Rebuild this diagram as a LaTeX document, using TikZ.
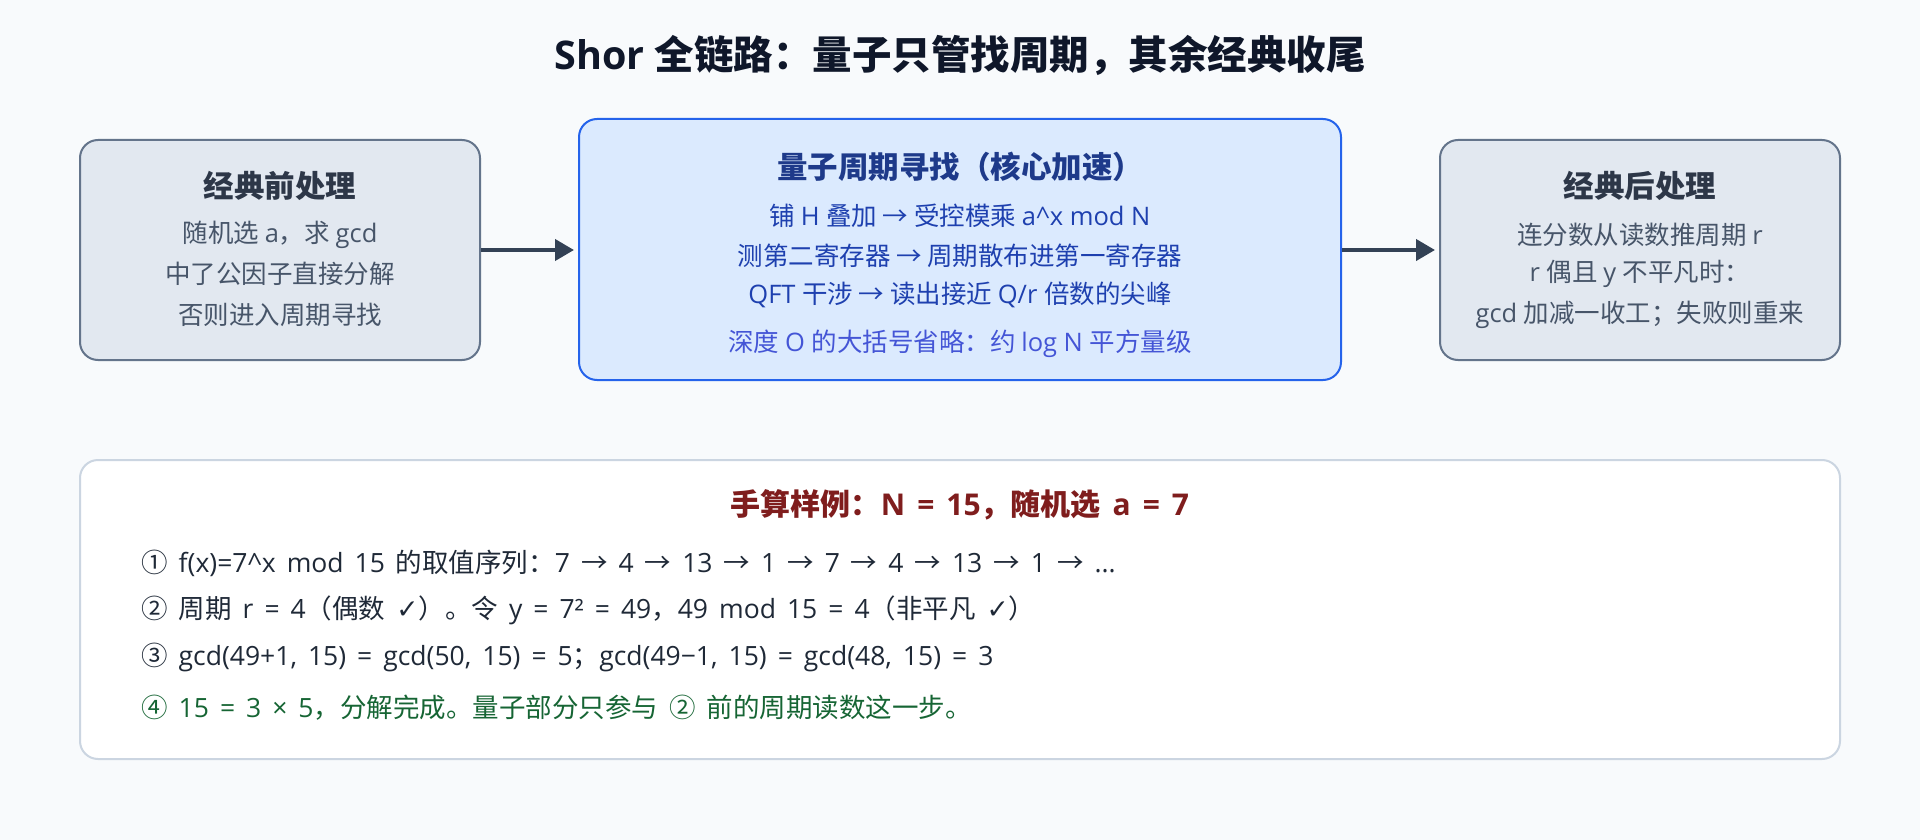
\documentclass[tikz,border=0pt]{standalone}
\usepackage{fontspec}
\setmainfont{Open Sans}
\newfontfamily\latfont{Open Sans}
\newfontfamily\cjkfont{Noto Sans CJK SC}
\newfontfamily\symfont{DejaVu Sans}
\usetikzlibrary{arrows.meta}
% automatic font switching between Latin, CJK and symbols
\XeTeXinterchartokenstate=1
\newXeTeXintercharclass\CJKcls
\newXeTeXintercharclass\SYMcls
\newcount\cc
\def\setcls#1#2#3{\cc=#1\relax\loop\XeTeXcharclass\cc=#3\relax\ifnum\cc<#2\advance\cc by 1\repeat}
\setcls{"2460}{"24FF}{\CJKcls}
\setcls{"2190}{"21FF}{\CJKcls}
\setcls{"3000}{"303F}{\CJKcls}
\setcls{"4E00}{"9FFF}{\CJKcls}
\setcls{"FF00}{"FFEF}{\CJKcls}
\XeTeXcharclass"2713=\SYMcls
\XeTeXinterchartoks 0 \CJKcls={\cjkfont}
\XeTeXinterchartoks 4095 \CJKcls={\cjkfont}
\XeTeXinterchartoks \SYMcls \CJKcls={\cjkfont}
\XeTeXinterchartoks \CJKcls 0={\latfont}
\XeTeXinterchartoks 4095 0={\latfont}
\XeTeXinterchartoks \SYMcls 0={\latfont}
\XeTeXinterchartoks 0 \SYMcls={\symfont}
\XeTeXinterchartoks 4095 \SYMcls={\symfont}
\XeTeXinterchartoks \CJKcls \SYMcls={\symfont}
\newcommand\widesp[1]{\spaceskip #1\relax}
\definecolor{bgc}{HTML}{F8FAFC}
\definecolor{sidefill}{HTML}{E2E8F0}
\definecolor{sideborder}{HTML}{64748B}
\definecolor{sidetitle}{HTML}{2D3748}
\definecolor{sidetext}{HTML}{475569}
\definecolor{midfill}{HTML}{DBEAFE}
\definecolor{midborder}{HTML}{2563EB}
\definecolor{midtitle}{HTML}{1E3A8A}
\definecolor{midtext}{HTML}{1E40AF}
\definecolor{midnote}{HTML}{4455D6}
\definecolor{arrowc}{HTML}{334155}
\definecolor{exborder}{HTML}{CBD5E1}
\definecolor{extitle}{HTML}{7F1D1D}
\definecolor{extext}{HTML}{1F2937}
\definecolor{exgreen}{HTML}{166534}
\definecolor{maintitle}{HTML}{0F172A}
\tikzset{
  sidebox/.style={draw=sideborder, fill=sidefill, line width=2pt, rounded corners=18pt, minimum width=400pt, minimum height=220pt, inner sep=0pt},
  midbox/.style={draw=midborder, fill=midfill, line width=2pt, rounded corners=18pt, minimum width=762pt, minimum height=261pt, inner sep=0pt},
  exbox/.style={draw=exborder, fill=white, line width=2pt, rounded corners=18pt, minimum width=1760pt, minimum height=299pt, inner sep=0pt},
  boxtitle/.style={inner sep=0pt, font=\fontsize{30.5pt}{36pt}\selectfont\bfseries},
  bodytext/.style={inner sep=0pt, font=\fontsize{25.5pt}{30pt}\selectfont},
  exline/.style={inner sep=0pt, anchor=west, text=extext, font={\fontsize{26.5pt}{31pt}\selectfont\widesp{11pt}}},
  flow/.style={draw=arrowc, line width=4pt, -{Triangle[length=19pt,width=21pt]}, shorten >=4pt},
}
\begin{document}
\begin{tikzpicture}[x=1pt,y=-1pt]
\fill[bgc] (0,0) rectangle (1920,840);
\useasboundingbox (0,0) rectangle (1920,840);

\node[inner sep=0pt, text=maintitle, font=\fontsize{39.5pt}{46pt}\selectfont\bfseries] (title) at (960,55) {Shor 全链路：量子只管找周期，其余经典收尾};

% left box
\node[sidebox] (pre) at (280,250) {};
\node[boxtitle, text=sidetitle] (pret) at (280,186) {经典前处理};
\node[bodytext, text=sidetext] (pre1) at (280,235) {随机选 a，求 gcd};
\node[bodytext, text=sidetext] (pre2) at (280,274) {中了公因子直接分解};
\node[bodytext, text=sidetext] (pre3) at (280,315) {否则进入周期寻找};

% middle box
\node[midbox] (qpf) at (960,249.5) {};
\node[boxtitle, text=midtitle] (qpft) at (960,166.5) {量子周期寻找（核心加速）};
\node[bodytext, text=midtext] (qpf1) at (960,215.5) {铺 H 叠加 → 受控模乘 a\textasciicircum x mod N};
\node[bodytext, text=midtext] (qpf2) at (960,256) {测第二寄存器 → 周期散布进第一寄存器};
\node[bodytext, text=midtext] (qpf3) at (960,295) {QFT 干涉 → 读出接近 Q/r 倍数的尖峰};
\node[bodytext, text=midnote] (qpf4) at (960,344) {深度 O 的大括号省略：约 log N 平方量级};

% right box
\node[sidebox] (post) at (1640,250) {};
\node[boxtitle, text=sidetitle] (postt) at (1640,186) {经典后处理};
\node[bodytext, text=sidetext] (post1) at (1640,235) {连分数从读数推周期 r};
\node[bodytext, text=sidetext] (post2) at (1640,274) {r 偶且 y 不平凡时：};
\node[bodytext, text=sidetext] (post3) at (1640,315) {gcd 加减一收工；失败则重来};

% arrows
\draw[flow] (pre.east) -- (qpf.west |- pre.east);
\draw[flow] (qpf.east |- post.west) -- (post.west);

% example box
\node[exbox] (ex) at (960,609.5) {};
\node[inner sep=0pt, text=extitle, font={\fontsize{30pt}{36pt}\selectfont\bfseries\widesp{12pt}}] (ext) at (960,504.5) {手算样例：N = 15，随机选 a = 7};
\node[exline] (ex1) at (141,563) {① f(x)=7\textasciicircum x mod 15 的取值序列：7 → 4 → 13 → 1 → 7 → 4 → 13 → 1 → ...};
\node[exline] (ex2) at (141,610) {② 周期 r = 4（偶数 ✓）。令 y = 7² = 49，49 mod 15 = 4（非平凡 ✓）};
\node[exline] (ex3) at (141,657.5) {③ gcd(49+1, 15) = gcd(50, 15) = 5；gcd(49−1, 15) = gcd(48, 15) = 3};
\node[exline, text=exgreen] (ex4) at (141,708) {④ 15 = 3 × 5，分解完成。量子部分只参与 ② 前的周期读数这一步。};
\end{tikzpicture}
\end{document}
